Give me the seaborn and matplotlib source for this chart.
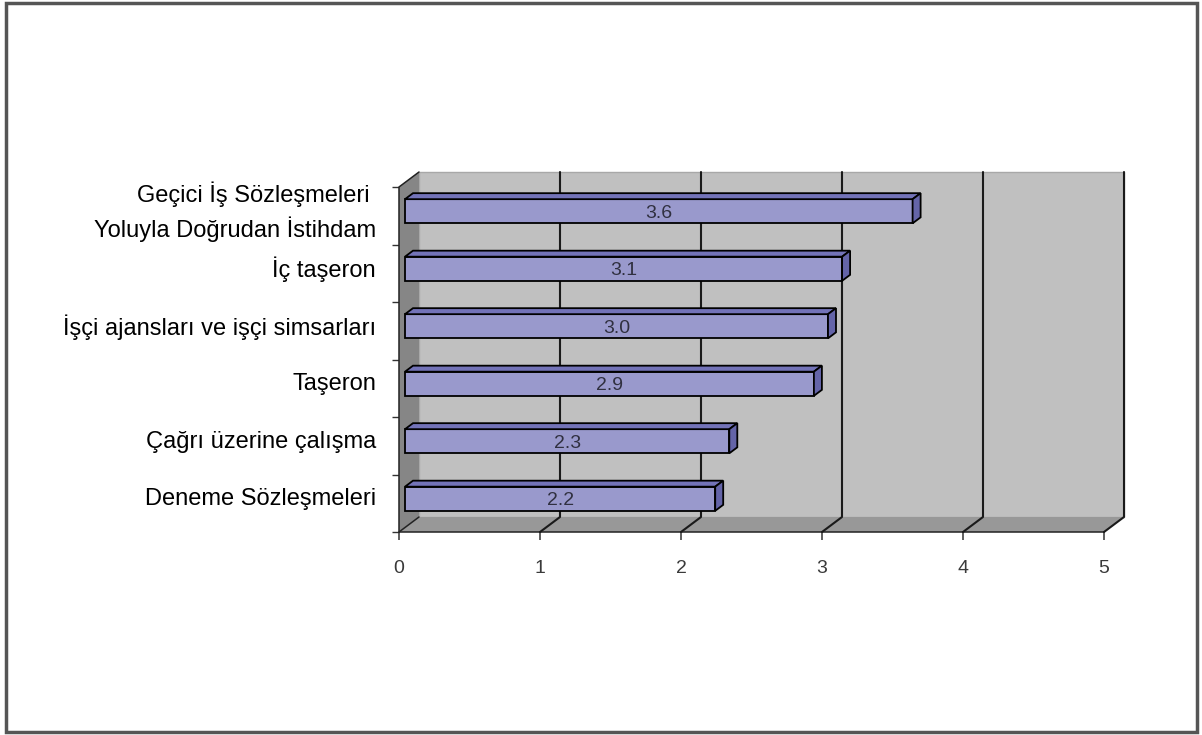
import matplotlib
matplotlib.use("Agg")
import matplotlib.pyplot as plt
import seaborn as sns
import pandas as pd
from matplotlib.patches import Polygon, Rectangle
from matplotlib.lines import Line2D
from matplotlib.transforms import offset_copy, IdentityTransform

# ---- data -------------------------------------------------------------
categories = [
    "Geçici İş Sözleşmeleri \nYoluyla Doğrudan İstihdam",
    "İç taşeron",
    "İşçi ajansları ve işçi simsarları",
    "Taşeron",
    "Çağrı üzerine çalışma",
    "Deneme Sözleşmeleri",
]
values = [3.6, 3.1, 3.0, 2.9, 2.3, 2.2]
value_labels = ["3.6", "3.1", "3.0", "2.9", "2.3", "2.2"]
x_ticks = [0, 1, 2, 3, 4, 5]

# ---- style ------------------------------------------------------------
sns.set_theme(style="white")
plt.rcParams["font.family"] = ["Liberation Sans", "DejaVu Sans"]

BAR_FRONT = "#9999CC"
BAR_TOP = "#7373B8"
BAR_SIDE = "#6464A8"
WALL_BACK = "#C0C0C0"
WALL_SIDE = "#868686"
FLOOR = "#989898"
TEXT = "#333333"

W, H, DPI = 1202, 735, 100
fig = plt.figure(figsize=(W / DPI, H / DPI), dpi=DPI)
fig.patch.set_facecolor("white")

# front plane of the 3-D plot box (pixels from top-left)
left_px, right_px, top_px, bottom_px = 399, 1104, 187, 532
ax = fig.add_axes([left_px / W, 1 - bottom_px / H,
                   (right_px - left_px) / W, (bottom_px - top_px) / H])

# depth of the box, bar placement inside it (display pixels, y up)
WALL_DX, WALL_DY = 20, 15
BAR_OX, BAR_OY = 6, 4.5
BAR_DX, BAR_DY = 8, 6

df = pd.DataFrame({"category": categories, "value": values})
sns.barplot(data=df, y="category", x="value", orient="h", width=0.42,
            color=BAR_FRONT, saturation=1, edgecolor="black", linewidth=1.3,
            ax=ax, zorder=5)
bars = list(ax.patches)

n = len(categories)
ax.set_xlim(x_ticks[0], x_ticks[-1])
ax.set_ylim(n - 0.5, -0.5)
ax.patch.set_visible(False)
for s in ax.spines.values():
    s.set_visible(False)
ax.set_xlabel("")
ax.set_ylabel("")

fig.canvas.draw()
T = ax.transData
ident = IdentityTransform()


def disp(x, y):
    return T.transform((x, y))


def sh(p, o):
    return (p[0] + o[0], p[1] + o[1])


# ---- walls ------------------------------------------------------------
x0, x5 = x_ticks[0], x_ticks[-1]
yt, yb = -0.5, n - 0.5
ftl, ftr = disp(x0, yt), disp(x5, yt)
fbl, fbr = disp(x0, yb), disp(x5, yb)
d = (WALL_DX, WALL_DY)

back = Polygon([sh(ftl, d), sh(ftr, d), sh(fbr, d), sh(fbl, d)], closed=True,
               facecolor=WALL_BACK, edgecolor="#A8A8A8", lw=1.0,
               transform=ident, clip_on=False, zorder=0)
side = Polygon([ftl, sh(ftl, d), sh(fbl, d), fbl], closed=True,
               facecolor=WALL_SIDE, edgecolor="none",
               transform=ident, clip_on=False, zorder=1)
floor = Polygon([fbl, fbr, sh(fbr, d), sh(fbl, d)], closed=True,
                facecolor=FLOOR, edgecolor="none",
                transform=ident, clip_on=False, zorder=1)
for p in (back, side, floor):
    ax.add_patch(p)

# outline of the side wall and floor front edges
for pts in ([sh(ftl, d), ftl, fbl, fbr], [fbl, sh(fbl, d)]):
    xs, ys = zip(*pts)
    ax.add_line(Line2D(xs, ys, color="#222222", lw=1.1, transform=ident,
                       clip_on=False, zorder=2))

# gridlines: across the floor, then up the back wall
for t in x_ticks[1:]:
    f = disp(t, yb)
    b = sh(f, d)
    top = sh(disp(t, yt), d)
    ax.add_line(Line2D([f[0], b[0], top[0]], [f[1], b[1], top[1]],
                       color="#1a1a1a", lw=1.5, transform=ident,
                       clip_on=False, zorder=2))

# ---- 3-D bars ---------------------------------------------------------
bar_tr = offset_copy(T, fig=fig, x=BAR_OX, y=BAR_OY, units="dots")
bd = (BAR_DX, BAR_DY)
bo = (BAR_OX, BAR_OY)
for bar in bars:
    bar.set_transform(bar_tr)
    bar.set_clip_on(False)
    bx, by, bw, bh = bar.get_x(), bar.get_y(), bar.get_width(), bar.get_height()
    tl = sh(disp(bx, by), bo)
    tr = sh(disp(bx + bw, by), bo)
    br = sh(disp(bx + bw, by + bh), bo)
    ax.add_patch(Polygon([tl, tr, sh(tr, bd), sh(tl, bd)], closed=True,
                         facecolor=BAR_TOP, edgecolor="black", lw=1.3,
                         transform=ident, clip_on=False, zorder=5))
    ax.add_patch(Polygon([tr, br, sh(br, bd), sh(tr, bd)], closed=True,
                         facecolor=BAR_SIDE, edgecolor="black", lw=1.3,
                         transform=ident, clip_on=False, zorder=5))

# value labels centred on each bar's front face
label_tr = offset_copy(T, fig=fig, x=BAR_OX, y=BAR_OY - 2, units="dots")
for i, (v, s) in enumerate(zip(values, value_labels)):
    ax.text(v / 2, i, s, transform=label_tr, ha="center", va="center",
            fontsize=14, color="#303040", zorder=6)

# ---- axes ticks and labels -------------------------------------------
ax.set_xticks(x_ticks)
ax.set_xticklabels([str(t) for t in x_ticks])
ax.tick_params(axis="x", bottom=True, length=6, width=1.1, color="#333333",
               direction="out", pad=14, labelsize=14, labelcolor="#3a3a3a")

ax.set_yticks(range(n))
ax.set_yticklabels([])
ax.set_yticks([k - 0.5 for k in range(n + 1)], minor=True)
ax.tick_params(axis="y", which="major", left=False, length=0)
ax.tick_params(axis="y", which="minor", left=True, length=5, width=1.0,
               color="#333333", direction="out")

cat_tr = offset_copy(T, fig=fig, x=-23, y=4, units="dots")
for i, c in enumerate(categories):
    ax.text(0, i, c, transform=cat_tr, ha="right", va="center",
            multialignment="right", linespacing=1.42,
            fontsize=17, color="black", zorder=6)

# ---- outer frame ------------------------------------------------------
fig.add_artist(Rectangle((6 / W, 3 / H), (1197 - 6) / W, (732 - 3) / H,
                         transform=fig.transFigure, fill=False,
                         edgecolor="#555555", lw=2.5))

fig.savefig("out.png", dpi=DPI)
